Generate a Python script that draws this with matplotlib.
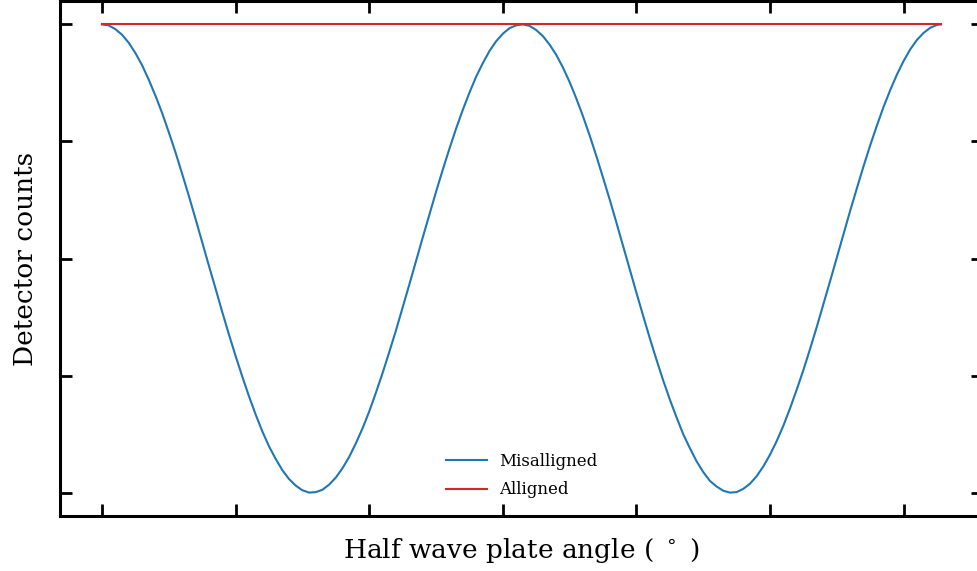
import numpy as np
import matplotlib
matplotlib.use("Agg")
import matplotlib.pyplot as plt

# angle (rad) and normalised detector counts
angle = [0.00, 0.05, 0.10, 0.15, 0.20, 0.25, 0.30, 0.35, 0.40, 0.45,
         0.50, 0.55, 0.60, 0.65, 0.70, 0.75, 0.80, 0.85, 0.90, 0.95,
         1.00, 1.05, 1.10, 1.15, 1.20, 1.25, 1.30, 1.35, 1.40, 1.45,
         1.50, 1.55, 1.60, 1.65, 1.70, 1.75, 1.80, 1.85, 1.90, 1.95,
         2.00, 2.05, 2.10, 2.15, 2.20, 2.25, 2.30, 2.35, 2.40, 2.45,
         2.50, 2.55, 2.60, 2.65, 2.70, 2.75, 2.80, 2.85, 2.90, 2.95,
         3.00, 3.05, 3.10, 3.15, 3.20, 3.25, 3.30, 3.35, 3.40, 3.45,
         3.50, 3.55, 3.60, 3.65, 3.70, 3.75, 3.80, 3.85, 3.90, 3.95,
         4.00, 4.05, 4.10, 4.15, 4.20, 4.25, 4.30, 4.35, 4.40, 4.45,
         4.50, 4.55, 4.60, 4.65, 4.70, 4.75, 4.80, 4.85, 4.90, 4.95,
         5.00, 5.05, 5.10, 5.15, 5.20, 5.25, 5.30, 5.35, 5.40, 5.45,
         5.50, 5.55, 5.60, 5.65, 5.70, 5.75, 5.80, 5.85, 5.90, 5.95,
         6.00, 6.05, 6.10, 6.15, 6.20, 6.25, 6.28]
misaligned = [1.000, 0.998, 0.990, 0.978, 0.961, 0.939, 0.913, 0.882, 0.848, 0.811,
              0.770, 0.727, 0.681, 0.634, 0.585, 0.535, 0.485, 0.436, 0.386, 0.338,
              0.292, 0.248, 0.206, 0.167, 0.131, 0.099, 0.072, 0.048, 0.029, 0.015,
              0.005, 0.000, 0.001, 0.006, 0.017, 0.032, 0.052, 0.076, 0.105, 0.137,
              0.173, 0.213, 0.255, 0.300, 0.346, 0.395, 0.444, 0.494, 0.544, 0.593,
              0.642, 0.689, 0.734, 0.777, 0.817, 0.854, 0.888, 0.917, 0.943, 0.964,
              0.980, 0.992, 0.998, 1.000, 0.997, 0.988, 0.975, 0.957, 0.935, 0.908,
              0.877, 0.842, 0.804, 0.763, 0.719, 0.673, 0.626, 0.577, 0.527, 0.477,
              0.427, 0.378, 0.330, 0.284, 0.240, 0.199, 0.161, 0.125, 0.095, 0.067,
              0.044, 0.025, 0.013, 0.004, 0.000, 0.001, 0.008, 0.019, 0.035, 0.056,
              0.081, 0.110, 0.143, 0.180, 0.220, 0.262, 0.307, 0.354, 0.403, 0.452,
              0.502, 0.552, 0.602, 0.650, 0.697, 0.742, 0.784, 0.824, 0.860, 0.893,
              0.922, 0.947, 0.967, 0.982, 0.993, 0.999, 1.000]
aligned_x = [0.0, 6.28]
aligned = [1.0, 1.0]

plt.rcParams['font.family'] = ['DejaVu Serif']

fig = plt.figure(figsize=(9.78, 5.71), dpi=100)
ax = fig.add_axes([60 / 978, 1 - 516 / 571, 923 / 978, 515 / 571])

ax.plot(angle, misaligned, color='#1f77b4', lw=1.5, label='Misalligned')
ax.plot(aligned_x, aligned, color='#d62728', lw=1.5, label='Alligned')

ax.set_xticks([0, 1, 2, 3, 4, 5, 6])
ax.set_yticks([0, 0.25, 0.5, 0.75, 1.0])
ax.set_xticklabels([])
ax.set_yticklabels([])
ax.tick_params(direction='in', length=8.5, width=2, top=True, right=True)
for s in ax.spines.values():
    s.set_linewidth(2.2)

ax.set_xlabel('Half wave plate angle ( $^\\circ$ )', fontsize=19, labelpad=11)
ax.set_ylabel('Detector counts', fontsize=19, labelpad=12)
ax.legend(loc='lower center', frameon=False, fontsize=12, handlelength=2.5,
          handletextpad=0.7, labelspacing=0.7, borderaxespad=0.65)

fig.savefig('out.png', dpi=100)
